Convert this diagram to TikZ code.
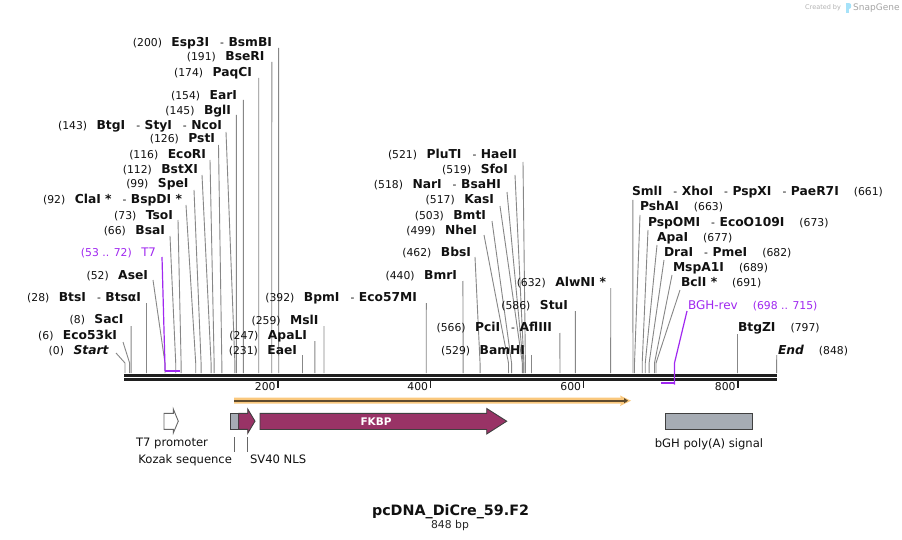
\documentclass[tikz,border=0pt]{standalone}
\usepackage{fontspec}
\setmainfont{DejaVu Sans}
\usetikzlibrary{arrows.meta}
\definecolor{primer}{RGB}{160,40,240}
\definecolor{siteg}{RGB}{135,135,135}
\definecolor{fkbp}{RGB}{153,51,102}
\definecolor{featgray}{RGB}{166,172,180}
\definecolor{orfhalo}{RGB}{250,200,125}
\definecolor{orfdark}{RGB}{95,75,45}
\definecolor{maptxt}{RGB}{17,17,17}
\newcommand\N[1]{{\fontsize{12.3}{14}\selectfont\bfseries #1}}
\newcommand\Dsh{\hspace{11pt}-\hspace{4.5pt}}
\newcommand\Gp{\hspace{9.5pt}}
\newcommand\Rg{\hspace{15pt}}
\newcommand\site[8]{%
 \node[lbl,anchor=#2] (#1) at (#3,#4) {#8};
 \coordinate (#1a) at (#5,#6);
 \coordinate (#1b) at ({125+0.7685*#7},363);
 \coordinate (#1c) at ({125+0.7685*#7},373);
 \draw[siteline] (#1a) -- (#1b) -- (#1c);
}
\tikzset{
 lbl/.style={inner sep=0pt, outer sep=0pt, text=maptxt, font=\fontsize{10.8}{13}\selectfont},
 siteline/.style={draw=siteg, line width=0.9pt},
 primerline/.style={draw=primer, line width=1.2pt},
 primerbar/.style={draw=primer, line width=2pt},
 mapline/.style={draw=black!88, line width=2.7pt},
 tickline/.style={draw=black!88, line width=1.8pt},
 featbox/.style={draw=black!75, line width=0.9pt},
 featlbl/.style={inner sep=0pt, outer sep=0pt, text=maptxt, font=\fontsize{11.6}{14}\selectfont},
 featlink/.style={draw=black!60, line width=0.8pt},
}
\begin{document}
\begin{tikzpicture}[x=1pt,y=-1pt]
\path[use as bounding box, fill=white] (0,0) rectangle (902,540);

% watermark
\node[inner sep=0pt, anchor=base west, text=black!30, font=\fontsize{6.5}{8}\selectfont] (wm1) at (805,10) {Created by};
\node[inner sep=0pt, anchor=base west, text=black!35, font=\fontsize{9}{10}\selectfont] (wm2) at (853,11) {SnapGene};
\fill[cyan!35] (845.5,3) rectangle (848.5,13);
\fill[cyan!35] (848.5,3) .. controls (852,3) and (852,9) .. (848.5,9) -- cycle;

% map backbone
\coordinate (m1l) at (124,375.3); \coordinate (m1r) at (777,375.3);
\coordinate (m2l) at (124,379.5); \coordinate (m2r) at (777,379.5);
\draw[mapline] (m1l) -- (m1r);
\draw[mapline] (m2l) -- (m2r);

% ticks
\foreach \tx/\tl in {278/200, 430.5/400, 583.5/600, 738/800}{
 \coordinate (t\tl a) at (\tx,380);
 \coordinate (t\tl b) at (\tx,388);
 \draw[tickline] (t\tl a) -- (t\tl b);
 \node[lbl, anchor=base east] (tl\tl) at (\tx-2.5,390.5) {\tl};
}

% ---- left stack
\site{esp}{base east}{272}{47}{278.6}{48}{200}{(200)\Gp\N{Esp3I}\Dsh\N{BsmBI}}
\site{bse}{base east}{264.5}{61}{271.8}{62}{191}{(191)\Gp\N{BseRI}}
\site{paq}{base east}{252}{77}{258.7}{78}{174}{(174)\Gp\N{PaqCI}}
\site{ear}{base east}{237}{100}{243.3}{100}{154}{(154)\Gp\N{EarI}}
\site{bgl}{base east}{231}{115}{236.4}{115}{145}{(145)\Gp\N{BglI}}
\site{btg}{base east}{222}{130}{226}{132}{143}{(143)\Gp\N{BtgI}\Dsh\N{StyI}\Dsh\N{NcoI}}
\site{pst}{base east}{215}{143}{218.5}{145}{126}{(126)\Gp\N{PstI}}
\site{eco}{base east}{206}{159}{210}{160}{116}{(116)\Gp\N{EcoRI}}
\site{bstx}{base east}{198}{174}{202}{175}{112}{(112)\Gp\N{BstXI}}
\site{spe}{base east}{188.5}{188}{194}{190}{99}{(99)\Gp\N{SpeI}}
\site{cla}{base east}{182}{204}{186}{205}{92}{(92)\Gp\N{ClaI *}\Dsh\N{BspDI *}}
\site{tso}{base east}{173}{219}{178}{220}{73}{(73)\Gp\N{TsoI}}
\site{bsa}{base east}{165}{234}{170}{236}{66}{(66)\Gp\N{BsaI}}
\site{ase}{base east}{148}{279}{153}{280}{52}{(52)\Gp\N{AseI}}
\site{bts}{base east}{141}{301}{146.5}{303}{28}{(28)\Gp\N{BtsI}\Dsh\N{BtsαI}}
\site{sac}{base east}{123.5}{323}{131.1}{326}{8}{(8)\Gp\N{SacI}}
\site{ecok}{base east}{117}{339}{123}{342}{6}{(6)\Gp\N{Eco53kI}}
\site{start}{base east}{108.5}{354}{116}{353}{0}{(0)\Gp\N{\itshape Start}}

% T7 primer
\node[lbl, anchor=base east, text=primer] (t7p) at (156,256) {(53 .. 72)\Gp{\fontsize{11.8}{14}\selectfont T7}};
\coordinate (t7a) at (162,257);
\coordinate (t7b) at (164.9,363);
\coordinate (t7c) at (164.9,370.8);
\coordinate (t7d) at (180.3,370.8);
\draw[primerline] (t7a) -- (t7b) -- (t7c);
\draw[primerbar] (t7c) -- (t7d);

% ---- middle stack
\site{plu}{base east}{517}{159}{523}{162}{521}{(521)\Gp\N{PluTI}\Dsh\N{HaeII}}
\site{sfo}{base east}{508}{174}{515}{175}{519}{(519)\Gp\N{SfoI}}
\site{nar}{base east}{501}{189}{507}{192}{518}{(518)\Gp\N{NarI}\Dsh\N{BsaHI}}
\site{kas}{base east}{494}{204}{500}{206}{517}{(517)\Gp\N{KasI}}
\site{bmt}{base east}{486}{219}{492}{221}{503}{(503)\Gp\N{BmtI}}
\site{nhe}{base east}{477}{234}{484}{235}{499}{(499)\Gp\N{NheI}}
\site{bbs}{base east}{471}{256}{475}{257}{462}{(462)\Gp\N{BbsI}}
\site{bmr}{base east}{457}{279}{462.9}{281}{440}{(440)\Gp\N{BmrI}}
\site{bpm}{base east}{417}{301}{426.3}{303}{392}{(392)\Gp\N{BpmI}\Dsh\N{Eco57MI}}
\site{msl}{base east}{318.5}{324}{324}{326}{259}{(259)\Gp\N{MslI}}
\site{apal}{base east}{307}{339}{314.8}{341}{247}{(247)\Gp\N{ApaLI}}
\site{eae}{base east}{297}{354}{302.5}{355}{231}{(231)\Gp\N{EaeI}}
\site{alw}{base east}{606}{286}{610.7}{288}{632}{(632)\Gp\N{AlwNI *}}
\site{stu}{base east}{568}{309}{575.3}{311}{586}{(586)\Gp\N{StuI}}
\site{pci}{base east}{552}{331}{559.8}{333}{566}{(566)\Gp\N{PciI}\Dsh\N{AflIII}}
\site{bam}{base east}{525}{354}{531.5}{355}{529}{(529)\Gp\N{BamHI}}

% ---- right stack
\site{sml}{base west}{632}{196}{632.8}{200}{661}{\N{SmlI}\Dsh\N{XhoI}\Dsh\N{PspXI}\Dsh\N{PaeR7I}\Rg(661)}
\site{psh}{base west}{640}{211}{640}{215}{663}{\N{PshAI}\Rg(663)}
\site{pspo}{base west}{648}{226}{648}{230}{673}{\N{PspOMI}\Dsh\N{EcoO109I}\Rg(673)}
\site{apai}{base west}{657}{241}{657}{245}{677}{\N{ApaI}\Rg(677)}
\site{dra}{base west}{664}{256}{664}{260}{682}{\N{DraI}\Dsh\N{PmeI}\Rg(682)}
\site{mspa}{base west}{673}{271}{672}{275}{689}{\N{MspA1I}\Rg(689)}
\site{bcl}{base west}{681}{286}{680}{290}{691}{\N{BclI *}\Rg(691)}
\site{btgz}{base west}{738}{331}{737.5}{334}{797}{\N{BtgZI}\Rg(797)}
\site{end}{base west}{778}{354}{776.7}{355}{848}{\N{\itshape End}\Rg(848)}

% BGH-rev primer
\node[lbl, anchor=base west, text=primer] (bghp) at (688,309) {{\fontsize{12}{14}\selectfont BGH-rev}\Rg(698 .. 715)};
\coordinate (bgha) at (687,311);
\coordinate (bghb) at (674.5,363);
\coordinate (bghc) at (674.5,384.5);
\coordinate (bghd) at (674.5,383);
\coordinate (bghe) at (660.6,383);
\draw[primerline] (bgha) -- (bghb) -- (bghc);
\draw[primerbar] (bghd) -- (bghe);

% ---- ORF line
\fill[orfhalo] (234,397.7) -- (621,397.7) -- (620,395.5) -- (631,400.7) -- (620,406) -- (621,403.7) -- (234,403.7) -- cycle;
\coordinate (orfa) at (234,400.7);
\coordinate (orfb) at (628,400.7);
\draw[orfdark, line width=2pt, -{Triangle[length=4pt,width=5pt]}] (orfa) -- (orfb);

% ---- features
\draw[featbox, draw=black!60, fill=white] (164,413.3) -- (173.3,413.3) -- (173.3,409) -- (178.3,421.2) -- (173.3,433) -- (173.3,429.3) -- (164,429.3) -- cycle;
\draw[featbox, fill=featgray] (230.7,413.3) rectangle (238.7,429.3);
\draw[featbox, fill=fkbp] (238.7,413.3) -- (247.7,413.3) -- (247.7,409) -- (255,421.2) -- (247.7,433.3) -- (247.7,429.3) -- (238.7,429.3) -- cycle;
\draw[featbox, fill=fkbp] (260,413.3) -- (486.7,413.3) -- (486.7,408.5) -- (506.7,421.2) -- (486.7,434) -- (486.7,429.5) -- (260,429.5) -- cycle;
\node[inner sep=0pt, text=white, font=\fontsize{10.5}{12}\selectfont\bfseries] (fkbpl) at (376,421.5) {FKBP};
\draw[featbox, fill=featgray] (665,413.3) rectangle (752,429.3);

% feature labels
\node[featlbl, anchor=base] (t7l) at (172,446.5) {T7 promoter};
\coordinate (kza) at (234.7,437); \coordinate (kzb) at (234.7,452);
\draw[featlink] (kza) -- (kzb);
\node[featlbl, anchor=base east] (kzl) at (232,463.5) {Kozak sequence};
\coordinate (nlsa) at (247,437); \coordinate (nlsb) at (247,452);
\draw[featlink] (nlsa) -- (nlsb);
\node[featlbl, anchor=base west] (nlsl) at (250,463.5) {SV40 NLS};
\node[featlbl, anchor=base] (bghl) at (709,447.5) {bGH poly(A) signal};

% title
\node[inner sep=0pt, anchor=base, text=maptxt, font=\fontsize{14.3}{16}\selectfont\bfseries] (title) at (450.5,515) {pcDNA\_DiCre\_59.F2};
\node[inner sep=0pt, anchor=base, text=black!85, font=\fontsize{10.8}{12}\selectfont] (bp) at (450,528) {848 bp};
\end{tikzpicture}
\end{document}
